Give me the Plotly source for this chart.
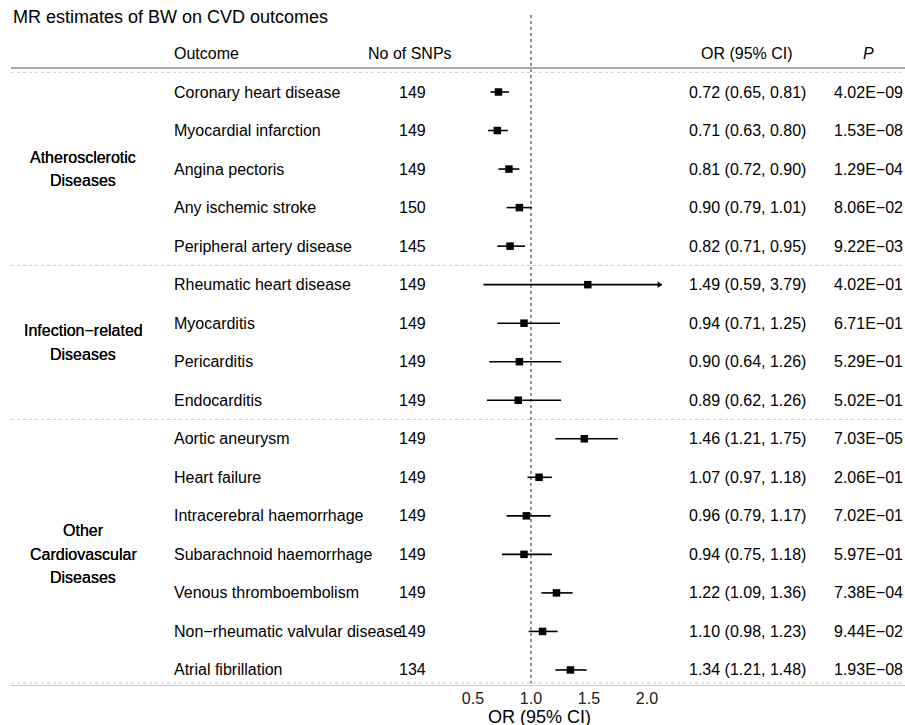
import plotly.graph_objects as go

# ---------------- data ----------------
outcomes = ["Coronary heart disease", "Myocardial infarction", "Angina pectoris",
            "Any ischemic stroke", "Peripheral artery disease",
            "Rheumatic heart disease", "Myocarditis", "Pericarditis", "Endocarditis",
            "Aortic aneurysm", "Heart failure", "Intracerebral haemorrhage",
            "Subarachnoid haemorrhage", "Venous thromboembolism",
            "Non\u2212rheumatic valvular disease", "Atrial fibrillation"]
n_snps = [149, 149, 149, 150, 145, 149, 149, 149, 149, 149, 149, 149, 149, 149, 149, 134]
or_est = [0.72, 0.71, 0.81, 0.90, 0.82, 1.49, 0.94, 0.90, 0.89, 1.46, 1.07, 0.96, 0.94, 1.22, 1.10, 1.34]
ci_low = [0.65, 0.63, 0.72, 0.79, 0.71, 0.59, 0.71, 0.64, 0.62, 1.21, 0.97, 0.79, 0.75, 1.09, 0.98, 1.21]
ci_high = [0.81, 0.80, 0.90, 1.01, 0.95, 3.79, 1.25, 1.26, 1.26, 1.75, 1.18, 1.17, 1.18, 1.36, 1.23, 1.48]
p_values = ["4.02E\u221209", "1.53E\u221208", "1.29E\u221204", "8.06E\u221202", "9.22E\u221203",
            "4.02E\u221201", "6.71E\u221201", "5.29E\u221201", "5.02E\u221201",
            "7.03E\u221205", "2.06E\u221201", "7.02E\u221201", "5.97E\u221201", "7.38E\u221204",
            "9.44E\u221202", "1.93E\u221208"]
group_names = [["Atherosclerotic", "Diseases"],
               ["Infection\u2212related", "Diseases"],
               ["Other", "Cardiovascular", "Diseases"]]
group_sizes = [5, 4, 7]
x_ticks = [0.5, 1.0, 1.5, 2.0]
x_ticktext = ["0.5", "1.0", "1.5", "2.0"]
x_range = [0.0, 2.13]

FONT = "Liberation Sans, Arial, Helvetica, sans-serif"
W, H = 905, 725
n = len(outcomes)
rows = list(range(n))

# pixel helpers for layout (text columns / separators)
def px(xp):
    return xp / W

fig = go.Figure()

# reference line at OR = 1
fig.add_trace(go.Scatter(x=[1, 1], y=[-2.0, 15.35], mode="lines",
                         line=dict(color="#222", width=1, dash="dot"),
                         hoverinfo="skip", showlegend=False, cliponaxis=False))

# CI lines (clipped to the axis range, arrow where exceeded)
xs, ys, ax_x, ax_y = [], [], [], []
for r, lo, hi in zip(rows, ci_low, ci_high):
    lo_c = max(lo, x_range[0])
    hi_c = min(hi, x_range[1])
    xs += [lo_c, hi_c, None]
    ys += [r, r, None]
    if hi > x_range[1]:
        ax_x.append(x_range[1] - 0.025)
        ax_y.append(r)
fig.add_trace(go.Scatter(x=xs, y=ys, mode="lines", line=dict(color="black", width=1.6),
                         hoverinfo="skip", showlegend=False, cliponaxis=False))
fig.add_trace(go.Scatter(x=ax_x, y=ax_y, mode="markers",
                         marker=dict(symbol="triangle-right", size=6, color="black"),
                         hoverinfo="skip", showlegend=False, cliponaxis=False))
fig.add_trace(go.Scatter(x=or_est, y=rows, mode="markers",
                         marker=dict(symbol="square", size=7.5, color="black",
                                     line=dict(width=0)),
                         showlegend=False, cliponaxis=False))

ann = []
tf = dict(family=FONT, size=16, color="black")
# title
ann.append(dict(text="MR estimates of BW on CVD outcomes", x=px(11), y=-1.95, xref="paper", yref="y",
                xanchor="left", yanchor="middle", showarrow=False,
                font=dict(family=FONT, size=18, color="black")))
# header
hdr_y = -1
ann.append(dict(text="Outcome", x=px(172), y=hdr_y, xref="paper", yref="y", xanchor="left",
                yanchor="middle", showarrow=False, font=tf))
ann.append(dict(text="No of SNPs", x=px(410), y=hdr_y, xref="paper", yref="y", xanchor="center",
                yanchor="middle", showarrow=False, font=tf))
ann.append(dict(text="OR (95% CI)", x=px(747), y=hdr_y, xref="paper", yref="y", xanchor="center",
                yanchor="middle", showarrow=False, font=tf))
ann.append(dict(text="<i>P</i>", x=px(868), y=hdr_y, xref="paper", yref="y", xanchor="center",
                yanchor="middle", showarrow=False, font=tf))
# rows
for r in rows:
    ann.append(dict(text=outcomes[r], x=px(172), y=r, xref="paper", yref="y", xanchor="left",
                    yanchor="middle", showarrow=False, font=tf))
    ann.append(dict(text=str(n_snps[r]), x=px(412), y=r, xref="paper", yref="y", xanchor="center",
                    yanchor="middle", showarrow=False, font=tf))
    ann.append(dict(text=f"{or_est[r]:.2f} ({ci_low[r]:.2f}, {ci_high[r]:.2f})", x=px(747), y=r,
                    xref="paper", yref="y", xanchor="center", yanchor="middle",
                    showarrow=False, font=tf))
    ann.append(dict(text=p_values[r], x=px(868), y=r, xref="paper", yref="y", xanchor="center",
                    yanchor="middle", showarrow=False, font=tf))

# group labels and separators
shapes = []
start = 0
line_gap = 23.5
for gi, (names, size) in enumerate(zip(group_names, group_sizes)):
    center = start + (size - 1) / 2
    k = len(names)
    for li, nm in enumerate(names):
        shift = -(li - (k - 1) / 2) * line_gap
        ann.append(dict(text=nm, x=px(83), y=center, yshift=shift, xref="paper", yref="y",
                        xanchor="center", yanchor="middle", showarrow=False,
                        font=dict(family=FONT, size=16, color="black",
                                  shadow="0px 0px 0.6px black")))
    start += size
    if gi < len(group_sizes) - 1:
        shapes.append(dict(type="line", xref="paper", yref="y", x0=px(11), x1=1,
                           y0=start - 0.5, y1=start - 0.5,
                           line=dict(color="#c8c8c8", width=1, dash="dot")))

# header / bottom rules
shapes.append(dict(type="line", xref="paper", yref="y", x0=px(11), x1=1, y0=-0.62, y1=-0.62,
                   line=dict(color="#8c8c8c", width=1.5)))
shapes.append(dict(type="line", xref="paper", yref="y", x0=px(11), x1=1, y0=-0.51, y1=-0.51,
                   line=dict(color="#c8c8c8", width=1, dash="dot")))
shapes.append(dict(type="line", xref="paper", yref="y", x0=px(11), x1=1, y0=n - 1 + 0.34, y1=n - 1 + 0.34,
                   line=dict(color="#c8c8c8", width=1, dash="dot")))
shapes.append(dict(type="line", xref="paper", yref="y", x0=px(11), x1=1, y0=n - 1 + 0.42, y1=n - 1 + 0.42,
                   line=dict(color="#8c8c8c", width=1.5)))

# axis title
ann.append(dict(text="OR (95% CI)", x=px(539), y=1 - 717 / H, xref="paper", yref="paper",
                xanchor="center", yanchor="middle", showarrow=False,
                font=dict(family=FONT, size=18, color="black")))

row0_px, row_step = 92.0, 38.53
bottom_px = 686.0
y_top = -row0_px / row_step
y_bot = (bottom_px - row0_px) / row_step

fig.update_layout(
    width=W, height=H, margin=dict(l=0, r=0, t=0, b=0),
    paper_bgcolor="white", plot_bgcolor="white",
    annotations=ann, shapes=shapes,
    xaxis=dict(domain=[px(415), px(662)], range=x_range, tickvals=x_ticks, ticktext=x_ticktext,
               showgrid=False, zeroline=False, showline=False, ticks="",
               ticklabelstandoff=1,
               tickfont=dict(family=FONT, size=16, color="#1a1a1a")),
    yaxis=dict(domain=[1 - bottom_px / H, 1], range=[y_bot, y_top], showgrid=False, zeroline=False,
               showticklabels=False, showline=False),
    font=dict(family=FONT),
)

fig.write_html("out.html", config={"displayModeBar": False},
               post_script="document.body.style.margin='0px';document.body.style.overflow='hidden';"
                           "document.documentElement.style.overflow='hidden';")
